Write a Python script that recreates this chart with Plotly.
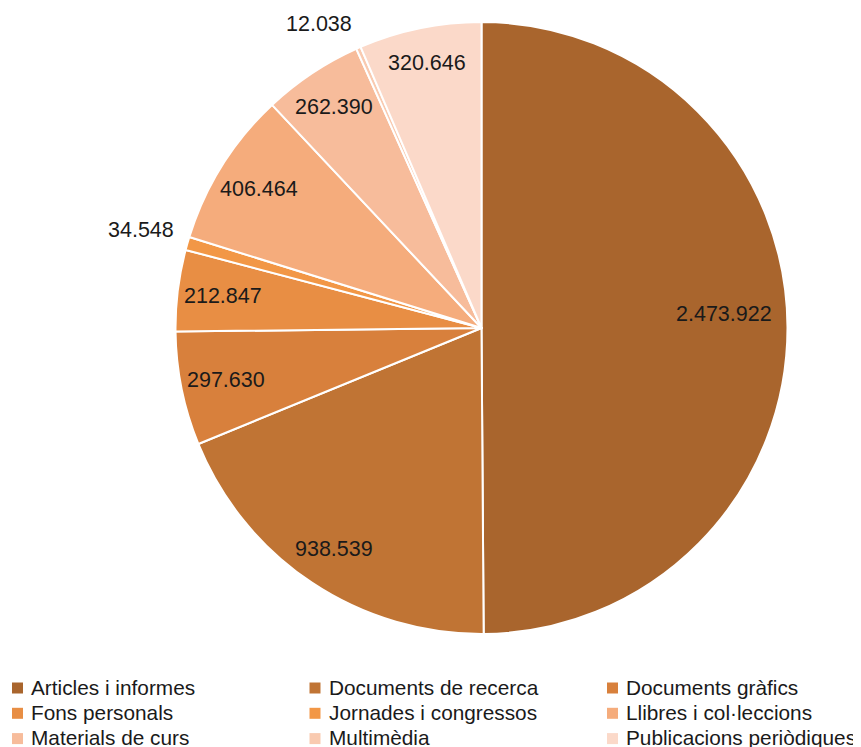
import math
import plotly.graph_objects as go

categories = ["Articles i informes", "Documents de recerca", "Documents gràfics",
              "Fons personals", "Jornades i congressos", "Llibres i col·leccions",
              "Materials de curs", "Multimèdia", "Publicacions periòdiques"]
values = [2473922, 938539, 297630, 212847, 34548, 406464, 262390, 12038, 320646]
colors = ["#A9652D", "#C07434", "#D8803C", "#E88E44", "#F29746",
          "#F5AC7C", "#F7BC9B", "#F9CAB0", "#FBD9C9"]

PAGE_W, PAGE_H, OFF = 861, 747, 8      # browser body margin is 8px
W, H = PAGE_W - OFF, PAGE_H - OFF
CX, CY, R = 481.5 - OFF, 328 - OFF, 306   # pie centre/radius in figure pixels
FONT = "Liberation Sans"
TXT = "#1a1a1a"
FS = 21.5
FS_LEG = 20.8

# Excel "best fit" moved a couple of labels away from the slice bisector
LABEL_ANGLE = {0: 86.8, 7: 331.8}

def fmt(v):
    return f"{v:,}".replace(",", ".")

fig = go.Figure(go.Pie(
    labels=categories, values=values, sort=False, direction="clockwise",
    rotation=0, textinfo="none", hoverinfo="label+value", showlegend=False,
    marker=dict(colors=colors, line=dict(color="white", width=2)),
    domain=dict(x=[(CX - R) / W, (CX + R) / W], y=[1 - (CY + R) / H, 1 - (CY - R) / H]),
))

# data labels, positioned from the cumulative share of each slice
total = sum(values)
annotations = []
cum = 0.0
for i, v in enumerate(values):
    frac = v / total
    theta = (cum + frac / 2) * 2 * math.pi
    cum += frac
    if i in LABEL_ANGLE:
        theta = math.radians(LABEL_ANGLE[i])
    s, c = abs(math.sin(theta)), abs(math.cos(theta))
    if i == 0:
        rr = 0.795 * R
    elif frac < 0.01:
        rr = R + 14 + 33 * s + 10 * c
    else:
        rr = R - 33 - 13 * s
    dx = rr * math.sin(theta)
    dy = rr * math.cos(theta)
    annotations.append(dict(
        x=(CX + dx) / W, y=(H - CY + dy) / H, xref="paper", yref="paper",
        text=fmt(v), showarrow=False, xanchor="center", yanchor="middle",
        font=dict(family=FONT, size=FS, color=TXT)))

# legend drawn as a 3-column grid (row-major, like the original)
LEG_X0, LEG_DX, LEG_Y0, LEG_DY, SQ = 12 - OFF, 297.5, 688 - OFF, 25.3, 11
shapes = []
for i, (cat, col) in enumerate(zip(categories, colors)):
    cc, r = i % 3, i // 3
    x = LEG_X0 + cc * LEG_DX
    y = LEG_Y0 + r * LEG_DY
    shapes.append(dict(type="rect", xref="paper", yref="paper",
                       x0=x / W, x1=(x + SQ) / W, y0=1 - (y + SQ / 2) / H, y1=1 - (y - SQ / 2) / H,
                       fillcolor=col, line=dict(width=0)))
    annotations.append(dict(x=(x + 17) / W, y=1 - (y - 1) / H, xref="paper", yref="paper",
                            text=cat, showarrow=False, xanchor="left", yanchor="middle",
                            font=dict(family=FONT, size=FS_LEG, color=TXT)))

fig.update_layout(
    width=W, height=H, margin=dict(l=0, r=0, t=0, b=0),
    paper_bgcolor="white", plot_bgcolor="white",
    annotations=annotations, shapes=shapes, showlegend=False,
)

fig.write_html("out.html")
